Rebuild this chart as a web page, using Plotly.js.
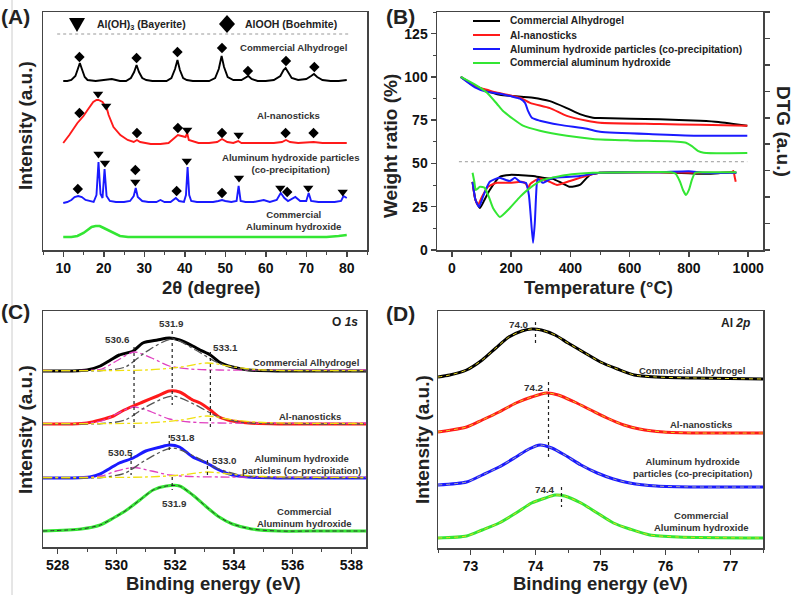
<!DOCTYPE html>
<html><head><meta charset="utf-8">
<script src="https://cdn.plot.ly/plotly-3.0.1.min.js"></script>
<style>body{margin:0;background:#fff}#chart{width:800px;height:595px}</style>
</head><body><div id="chart"></div>
<script>
// ---------------- DATA ----------------
const sampleNames = ['Commercial Alhydrogel', 'Al-nanosticks', 'Aluminum hydroxide particles (co-precipitation)', 'Commercial aluminum hydroxide'];
const sampleColors = ['#000000', '#ff1a1a', '#1a1aff', '#33e633'];

// (A) XRD, stacked intensity (a.u.)
const xrdThetaAlhy = [10, 11, 12, 13, 13.6, 14.1, 14.6, 15.3, 16, 18, 20, 22, 24, 25.5, 26.7, 27.5, 28.1, 28.7, 29.5, 30.5, 32, 34, 35.5, 36.7, 37.6, 38.2, 38.8, 39.6, 40.5, 42, 44, 46, 47.5, 48.4, 49.1, 49.7, 50.6, 52, 54, 55, 55.7, 56.5, 58, 60, 62, 63.6, 64.4, 64.9, 65.5, 66.4, 68, 70, 71.2, 71.9, 72.7, 74, 76, 78, 80];
const xrdIntAlhy = [169, 169, 170, 174, 181, 187, 181, 173, 170, 169, 170, 171, 169, 169, 172, 178, 185, 178, 172, 170, 169, 169, 169, 172, 181, 190, 180, 172, 170, 169, 169, 169, 172, 181, 194, 183, 173, 170, 170, 172, 174, 171, 169, 169, 170, 174, 180, 182, 178, 172, 170, 171, 174, 176, 173, 170, 169, 169, 170];
const xrdThetaNano = [10, 11.5, 13.5, 15, 16, 17.4, 18.2, 18.7, 19.7, 20.4, 20.8, 21.2, 22.4, 24.1, 25.9, 27.4, 28.2, 29, 31.6, 34, 36, 38.3, 39.5, 40.2, 40.6, 41, 43.4, 46, 48, 49.2, 50.5, 52, 53.2, 54, 58, 62, 64, 65, 66, 68, 71.8, 74, 78, 80];
const xrdIntNano = [107, 115, 127, 134, 140, 148, 150, 150, 148, 143, 141, 135, 123, 115, 110, 108, 110, 108, 106, 106, 107, 115, 114, 113, 117, 110, 107, 107, 108, 111, 108, 107, 109, 107, 107, 107, 108, 110, 108, 107, 108, 107, 107, 107];
const xrdThetaCoppt = [10, 11, 12, 12.8, 13.7, 14.6, 15.5, 16.5, 17.5, 18.2, 18.7, 19.2, 19.7, 20.2, 20.7, 21.5, 23, 25, 26.5, 27.4, 27.9, 28.4, 29.5, 31, 33, 34, 35, 36.5, 37.8, 38.6, 39.8, 40.3, 40.7, 41.1, 41.6, 43, 45, 47, 48.3, 49.2, 50, 51.5, 52.8, 53.3, 53.8, 55, 57, 59, 59.5, 61, 62.7, 63.7, 64.6, 65.5, 66.5, 67.3, 68.5, 70, 70.6, 71.2, 73, 75, 77, 78.6, 79.2, 80];
const xrdIntCoppt = [47, 48, 50, 53, 54, 53, 50, 49, 48, 55, 88, 56, 52, 81, 54, 49, 48, 48, 49, 54, 62, 53, 49, 48, 48, 50, 48, 48, 52, 49, 48, 55, 83, 55, 49, 48, 48, 48, 49, 50, 49, 48, 49, 64, 49, 48, 48, 49, 50, 48, 50, 57, 52, 49, 51, 53, 49, 49, 57, 49, 48, 48, 48, 49, 54, 52];
const xrdThetaComm = [10, 12, 13.5, 15, 16, 17, 18, 19, 20, 21, 22, 23, 24, 25, 26, 28, 30, 35, 40, 45, 50, 55, 60, 65, 70, 75, 78, 80];
const xrdIntComm = [13, 13, 14, 17, 20, 23, 24, 24, 22, 20, 18, 16, 14, 13.5, 13, 13, 13, 13, 13, 13, 13, 13, 13, 13, 13, 13, 14, 15];
// phase markers above the reflections
const bayeriteTheta = [18.6, 20.6, 40.6, 53.3, 18.7, 20.3, 27.8, 40.5, 53.4, 63.6, 70.5, 79.0];
const bayeriteLevel = [156, 144, 120, 115, 96, 87, 68, 89, 72, 62, 62, 58];
const boehmiteTheta = [14.0, 28.1, 38.2, 49.2, 55.6, 65.0, 72.0, 14.0, 28.2, 38.3, 49.2, 64.9, 71.8, 13.6, 27.8, 38.0, 49.2, 65.3];
const boehmiteLevel = [193, 192, 198, 202, 179, 189, 183, 137, 117, 122, 117, 117, 117, 61, 80, 59, 57, 58];
const xrdRefLevel = 216;
const xrdRefSpan = [8.5, 80.5];

// (B) TGA weight ratio (%)
const tgaTAlhy = [30, 78, 118, 162, 274, 331, 388, 432, 476, 500, 700, 838, 900, 950, 997];
const tgaWAlhy = [100, 95, 92, 89.7, 88, 86, 82, 78.5, 76.4, 76.2, 75.5, 74.7, 74, 72.8, 71.8];
const tgaTNano = [30, 78, 118, 150, 230, 264, 331, 388, 456, 500, 700, 838, 997];
const tgaWNano = [100, 94.5, 92.6, 91, 88, 85, 82, 77.5, 74.7, 73.5, 72.8, 72.3, 71.8];
const tgaTCoppt = [30, 78, 118, 162, 206, 230, 247, 257, 270, 297, 365, 456, 500, 700, 838, 997];
const tgaWCoppt = [100, 94, 91.4, 90.3, 88.5, 87.4, 85, 80.4, 76.4, 74.7, 72.3, 70, 68.3, 66.8, 66, 66];
const tgaTComm = [30, 84, 118, 152, 172, 206, 240, 297, 388, 476, 600, 760, 790, 810, 830, 850, 997];
const tgaWComm = [100, 95, 91, 84.5, 80.4, 75.8, 71.8, 68.9, 66, 64.2, 63.3, 62.6, 62, 60, 57.3, 56.2, 56];
// (B) DTG (a.u.)
const dtgTAlhy = [70, 80, 95, 110, 128, 162, 196, 274, 307, 341, 370, 399, 432, 466, 500, 600, 700, 800, 850, 900, 940, 960];
const dtgAlhy = [2.58, 1.89, 1.59, 1.89, 2.27, 2.77, 2.84, 2.80, 2.73, 2.69, 2.54, 2.39, 2.46, 2.84, 2.92, 2.94, 2.94, 2.90, 2.88, 2.90, 2.94, 2.92];
const dtgTNano = [70, 78, 88, 100, 122, 152, 196, 236, 250, 257, 265, 274, 297, 330, 355, 399, 466, 500, 700, 900, 945, 950, 955, 958];
const dtgNano = [2.58, 1.97, 1.70, 1.97, 2.39, 2.54, 2.54, 2.58, 2.50, 2.35, 2.50, 2.58, 2.69, 2.58, 2.46, 2.61, 2.84, 2.92, 2.94, 2.92, 2.95, 2.99, 2.73, 2.58];
const dtgTCoppt = [70, 80, 92, 105, 128, 160, 196, 213, 230, 250, 260, 266, 274, 280, 287, 291, 300, 307, 341, 400, 432, 500, 700, 800, 850, 960];
const dtgCoppt = [2.58, 1.89, 1.63, 2.01, 2.58, 2.73, 2.61, 2.73, 2.58, 2.54, 2.08, 1.33, 0.27, 1.02, 2.54, 2.69, 2.61, 2.54, 2.73, 2.77, 2.80, 2.92, 2.94, 2.98, 2.92, 2.92];
const dtgTComm = [70, 76, 81, 95, 111, 125, 139, 162, 196, 230, 264, 307, 388, 476, 600, 740, 755, 770, 780, 790, 800, 810, 821, 840, 900, 960];
const dtgComm = [2.92, 2.58, 2.27, 2.39, 2.35, 2.01, 1.59, 1.25, 1.59, 2.01, 2.35, 2.65, 2.84, 2.92, 2.94, 2.94, 2.88, 2.58, 2.27, 2.08, 2.27, 2.65, 2.92, 2.94, 2.94, 2.94];
const tgaRefLevel = 51;
const tgaRefSpan = [24, 997];

// (C) O 1s XPS, stacked intensity (a.u.)
const o1sBEAlhy = [527.5, 528.5, 529.0, 529.45, 529.8, 530.1, 530.57, 530.9, 531.4, 531.8, 532.15, 532.6, 532.85, 533.2, 533.5, 533.95, 534.5, 535.5, 537, 538.5];
const o1sAlhy = [176, 176, 177, 181, 187, 192, 196, 204, 207, 209, 207, 201, 197, 192, 185, 180, 177, 176, 176, 176];
const o1sBENano = [527.5, 528.5, 529.0, 529.45, 529.9, 530.2, 530.57, 530.9, 531.4, 531.8, 532.15, 532.6, 532.85, 533.2, 533.5, 533.95, 534.5, 535.5, 537, 538.5];
const o1sNano = [123, 123, 124, 127, 131, 136, 141, 145, 151, 156, 155, 147, 144, 137, 130, 126, 124, 123, 123, 123];
const o1sBECoppt = [527.5, 528.5, 529.1, 529.45, 529.8, 530.1, 530.57, 531.0, 531.5, 531.8, 532.15, 532.6, 533.07, 533.5, 533.95, 534.5, 535.5, 537, 538.5];
const o1sCoppt = [69, 69, 70, 73, 79, 84, 89, 96, 100, 102, 100, 90, 84, 77, 72, 70, 69, 69, 69];
const o1sBEComm = [527.5, 528.8, 529.45, 529.9, 530.35, 530.8, 531.25, 531.7, 532.15, 532.6, 533.07, 533.5, 533.95, 534.6, 535.5, 537, 538.5];
const o1sComm = [16, 18, 22, 29, 37, 47, 57, 61, 61, 52, 40, 30, 23, 18, 16, 16, 16];
// fitted components
const fitLowBE = [527.5, 528.8, 529.5, 530.0, 530.6, 531.2, 531.8, 532.5, 533.5, 538.5];
const fitLowAlhy = [176.5, 176.5, 178, 186, 195, 189, 181, 178, 177, 177];
const fitLowNano = [123.5, 123.5, 126, 133, 140, 135, 128, 125, 124, 124];
const fitLowCoppt = [69.5, 69.5, 71, 76, 79.5, 76, 72, 70.5, 70, 70];
const fitMidBE = [527.5, 529.5, 530.3, 531.0, 531.9, 532.7, 533.4, 534.2, 535, 538.5];
const fitMidAlhy = [176, 176.5, 180, 195, 208, 197, 185, 178, 176.5, 176];
const fitMidNano = [123, 123.5, 127, 140, 151, 142, 131, 125, 123.5, 123];
const fitMidCoppt = [69, 69.5, 74, 87, 99, 90, 79, 72, 69.5, 69];
const fitHighBE = [527.5, 531.0, 532.2, 533.1, 534.0, 535.0, 538.5];
const fitHighAlhy = [176.5, 177, 180, 184, 180, 177, 176.5];
const fitHighNano = [123.5, 124, 127, 131, 127, 124.5, 123.5];
const fitHighCoppt = [69.5, 70, 72, 75, 72.5, 70.5, 69.5];
// peak position guides (BE, top, bottom) and labels
const o1sGuideBE = [530.6, 531.9, 533.2, 530.5, 531.8, 533.1, 531.9];
const o1sGuideTop = [200, 216, 195, 92, 112, 87, 70];
const o1sGuideBottom = [117, 142, 117, 72, 94, 70, 57];
const o1sPeakText = ['530.6', '531.9', '533.1', '530.5', '531.8', '533.0', '531.9'];
const o1sPeakTextBE = [530.05, 531.89, 533.7, 530.13, 532.26, 533.68, 531.99];
const o1sPeakTextLevel = [208, 224, 200, 95, 110, 87, 44];

// (D) Al 2p XPS
const al2pBEAlhy = [72.5, 72.68, 72.94, 73.18, 73.39, 73.59, 73.79, 73.94, 74.09, 74.3, 74.5, 74.76, 75.0, 75.26, 75.52, 75.86, 76.47, 77.5];
const al2pAlhy = [171, 173, 178, 188, 200, 211, 217, 219, 218, 213, 205, 195, 186, 179, 173, 171, 170, 169];
const al2pBENano = [72.5, 72.94, 73.18, 73.44, 73.7, 73.94, 74.17, 74.35, 74.6, 74.85, 75.1, 75.36, 75.6, 75.97, 76.5, 77.5];
const al2pNano = [116, 121, 128, 136, 145, 151, 155, 153, 146, 138, 130, 123, 119, 116, 115, 115];
const al2pBECoppt = [72.5, 72.94, 73.18, 73.44, 73.7, 73.9, 74.07, 74.25, 74.45, 74.7, 74.95, 75.2, 75.45, 75.86, 76.5, 77.5];
const al2pCoppt = [63, 66, 73, 81, 91, 99, 103, 100, 93, 83, 75, 69, 65, 62, 61, 61];
const al2pBEComm = [72.5, 72.94, 73.18, 73.44, 73.7, 73.94, 74.15, 74.3, 74.45, 74.7, 74.95, 75.2, 75.45, 75.76, 76.2, 77.5];
const al2pComm = [10, 12, 18, 25, 35, 45, 50, 53, 52, 45, 35, 25, 19, 13, 11, 10];
const al2pGuideBE = [74.0, 74.2, 74.4];
const al2pGuideTop = [226, 166, 61];
const al2pGuideBottom = [205, 91, 41];
const al2pPeakText = ['74.0', '74.2', '74.4'];
const al2pPeakTextBE = [73.74, 73.98, 74.15];
const al2pPeakTextLevel = [224, 161, 59];

// ---------------- CHART ----------------
const FONT = 'Liberation Sans, Arial, sans-serif';
const W = 800, H = 595;
const xd = (a, b) => [a / W, b / W];
const yd = (top, bot) => [1 - bot / H, 1 - top / H];
const AX = '#444';
const tickFont = {family: FONT, size: 14, color: '#111', weight: 700};

function xAxis(dom, range, dtick, minor, anchor) {
  return {domain: dom, range: range, anchor: anchor, dtick: dtick, tick0: 0,
    showline: true, mirror: true, linecolor: AX, linewidth: 1.5,
    ticks: 'outside', ticklen: 5, tickwidth: 1.5, tickcolor: AX, tickfont: tickFont,
    minor: {dtick: minor, ticks: 'outside', ticklen: 3, tickwidth: 1, tickcolor: AX, showgrid: false},
    showgrid: false, zeroline: false, fixedrange: true};
}
function yBlank(dom, range, anchor) {
  return {domain: dom, range: range, anchor: anchor, showline: true, mirror: true, linecolor: AX, linewidth: 1.5,
    ticks: '', showticklabels: false, showgrid: false, zeroline: false};
}

const traces = [];
function line(x, y, xa, ya, color, width, extra) {
  traces.push(Object.assign({type: 'scatter', mode: 'lines', x: x, y: y, xaxis: xa, yaxis: ya,
    line: Object.assign({color: color, width: width}, (extra && extra.line) || {}), hoverinfo: 'skip', showlegend: false},
    extra && extra.rest || {}));
}

// (A)
[[xrdThetaAlhy, xrdIntAlhy], [xrdThetaNano, xrdIntNano], [xrdThetaCoppt, xrdIntCoppt], [xrdThetaComm, xrdIntComm]]
  .forEach((d, i) => line(d[0], d[1], 'x', 'y', sampleColors[i], i === 3 ? 2.6 : 1.9));
traces.push({type: 'scatter', mode: 'markers', x: bayeriteTheta, y: bayeriteLevel, xaxis: 'x', yaxis: 'y',
  marker: {symbol: 'triangle-down', size: 9, color: '#000'}, showlegend: false, hoverinfo: 'skip'});
traces.push({type: 'scatter', mode: 'markers', x: boehmiteTheta, y: boehmiteLevel, xaxis: 'x', yaxis: 'y',
  marker: {symbol: 'diamond', size: 8, color: '#000'}, showlegend: false, hoverinfo: 'skip'});
line(xrdRefSpan, [xrdRefLevel, xrdRefLevel], 'x', 'y', '#999', 1, {line: {dash: 'dot'}});

// (B)
[[tgaTAlhy, tgaWAlhy], [tgaTNano, tgaWNano], [tgaTCoppt, tgaWCoppt], [tgaTComm, tgaWComm]]
  .forEach((d, i) => line(d[0], d[1], 'x2', 'y2', sampleColors[i], 2, {line: {shape: 'spline', smoothing: 0.6}}));
line(tgaRefSpan, [tgaRefLevel, tgaRefLevel], 'x2', 'y2', '#999', 1, {line: {dash: 'dot'}});
[[dtgTAlhy, dtgAlhy], [dtgTNano, dtgNano], [dtgTCoppt, dtgCoppt], [dtgTComm, dtgComm]]
  .forEach((d, i) => line(d[0], d[1], 'x2', 'y5', sampleColors[i], 2, {line: {shape: 'spline', smoothing: 0.5}}));

// (C)
[[o1sBEAlhy, o1sAlhy], [o1sBENano, o1sNano], [o1sBECoppt, o1sCoppt], [o1sBEComm, o1sComm]]
  .forEach((d, i) => line(d[0], d[1], 'x3', 'y3', sampleColors[i], 3, {line: {shape: 'spline', smoothing: 0.7}}));
line(o1sBEComm, o1sComm, 'x3', 'y3', '#333', 1, {line: {shape: 'spline', smoothing: 0.7, dash: '4px,3px'}});
const fitSets = [[fitLowBE, [fitLowAlhy, fitLowNano, fitLowCoppt], '#e040c0'],
                 [fitMidBE, [fitMidAlhy, fitMidNano, fitMidCoppt], '#555555'],
                 [fitHighBE, [fitHighAlhy, fitHighNano, fitHighCoppt], '#f0e010']];
fitSets.forEach(f => f[1].forEach(y => line(f[0], y, 'x3', 'y3', f[2], 1.3, {line: {shape: 'spline', smoothing: 0.8, dash: 'dashdot'}})));
function guides(be, top, bot, xa, ya) {
  const gx = [], gy = [];
  be.forEach((b, i) => { gx.push(b, b, null); gy.push(top[i], bot[i], null); });
  line(gx, gy, xa, ya, '#222', 1.2, {line: {dash: 'dot'}});
}
guides(o1sGuideBE, o1sGuideTop, o1sGuideBottom, 'x3', 'y3');

// (D)
[[al2pBEAlhy, al2pAlhy], [al2pBENano, al2pNano], [al2pBECoppt, al2pCoppt], [al2pBEComm, al2pComm]]
  .forEach((d, i) => {
    line(d[0], d[1], 'x4', 'y4', sampleColors[i], 3, {line: {shape: 'spline', smoothing: 0.7}});
    line(d[0], d[1], 'x4', 'y4', i === 2 ? '#aaaaaa' : '#e8d820', 1, {line: {shape: 'spline', smoothing: 0.7, dash: '4px,4px'}});
  });
guides(al2pGuideBE, al2pGuideTop, al2pGuideBottom, 'x4', 'y4');

// ---------- annotations ----------
const ann = [];
const lblFont = (s, c) => ({family: FONT, size: s, color: c || '#222', weight: 700});
function txt(text, xref, yref, x, y, size, opts) {
  ann.push(Object.assign({text: text, xref: xref, yref: yref, x: x, y: y, showarrow: false,
    font: lblFont(size), xanchor: 'center', yanchor: 'middle'}, opts || {}));
}
const P = 'paper';
// panel labels
txt('(A)', P, P, 15 / W, 1 - 16 / H, 21);
txt('(B)', P, P, 400 / W, 1 - 16 / H, 21);
txt('(C)', P, P, 15 / W, 1 - 311 / H, 21);
txt('(D)', P, P, 400 / W, 1 - 313 / H, 21);
// axis titles
txt('2θ (degree)', P, P, 211 / W, 1 - 287 / H, 18.5);
txt('Temperature (°C)', P, P, 598 / W, 1 - 287 / H, 18.5);
txt('Binding energy (eV)', P, P, 213 / W, 1 - 583 / H, 18.5);
txt('Binding energy (eV)', P, P, 600 / W, 1 - 583 / H, 18.5);
txt('Intensity (a.u.)', P, P, 25 / W, 1 - 126 / H, 19, {textangle: -90});
txt('Weight ratio (%)', P, P, 390 / W, 1 - 146 / H, 19, {textangle: -90});
txt('DTG (a.u.)', P, P, 784 / W, 1 - 131 / H, 19, {textangle: 90});
txt('Intensity (a.u.)', P, P, 25 / W, 1 - 430 / H, 19, {textangle: -90});
txt('Intensity (a.u.)', P, P, 422 / W, 1 - 440 / H, 19, {textangle: -90});
// (A) legend: symbol keys drawn as shapes, names as text
const shapes = [];
const px = v => v / W, py = v => 1 - v / H;
shapes.push({type: 'path', xref: P, yref: P, fillcolor: '#000', line: {width: 0},
  path: `M${px(69)},${py(18)} L${px(85)},${py(18)} L${px(77)},${py(32)} Z`});
shapes.push({type: 'path', xref: P, yref: P, fillcolor: '#000', line: {width: 0},
  path: `M${px(219)},${py(24)} L${px(227)},${py(15)} L${px(235)},${py(24)} L${px(227)},${py(33)} Z`});
txt('Al(OH)<sub>3</sub> (Bayerite)', P, P, 95 / W, 1 - 25 / H, 10.5, {xanchor: 'left'});
txt('AlOOH (Boehmite)', P, P, 243 / W, 1 - 24 / H, 10.5, {xanchor: 'left'});
// (A) sample labels
txt('Commercial Alhydrogel', 'x', 'y', 66.8, 203, 9.6, {font: lblFont(9.6, '#333')});
txt('Al-nanosticks', 'x', 'y', 65.6, 135, 9.6, {font: lblFont(9.6, '#333')});
txt('Aluminum hydroxide particles<br>(co-precipitation)', 'x', 'y', 66.3, 87, 9.6, {font: lblFont(9.6, '#333')});
txt('Commercial<br>Aluminum hydroxide', 'x', 'y', 66.8, 30, 9.6, {font: lblFont(9.6, '#333')});
// (B) legend
sampleNames.forEach((n, i) => {
  const yy = 1 - (21 + i * 14) / H;
  shapes.push({type: 'line', xref: P, yref: P, x0: 473 / W, x1: 500 / W, y0: yy, y1: yy, line: {color: sampleColors[i], width: 2}});
  txt(n, P, P, 508 / W, yy, 10.2, {xanchor: 'left'});
});
// (C) labels
o1sPeakText.forEach((t, i) => txt(t, 'x3', 'y3', o1sPeakTextBE[i], o1sPeakTextLevel[i], 9.8, {font: lblFont(9.8, '#333')}));
txt('O <i>1s</i>', 'x3', 'y3', 538.3, 225, 12, {xanchor: 'right'});
txt('Commercial Alhydrogel', 'x3', 'y3', 536.45, 185, 9.5, {font: lblFont(9.5, '#333')});
txt('Al-nanosticks', 'x3', 'y3', 536.6, 131, 9.5, {font: lblFont(9.5, '#333')});
txt('Aluminum hydroxide<br>particles (co-precipitation)', 'x3', 'y3', 536.3, 83, 9.5, {font: lblFont(9.5, '#333')});
txt('Commercial<br>Aluminum hydroxide', 'x3', 'y3', 536.4, 29.5, 9.5, {font: lblFont(9.5, '#333')});
// (D) labels
al2pPeakText.forEach((t, i) => txt(t, 'x4', 'y4', al2pPeakTextBE[i], al2pPeakTextLevel[i], 9.8, {font: lblFont(9.8, '#333')}));
txt('Al <i>2p</i>', 'x4', 'y4', 77.33, 225, 12, {xanchor: 'right'});
txt('Commercial Alhydrogel', 'x4', 'y4', 76.41, 178, 9.5, {font: lblFont(9.5, '#333')});
txt('Al-nanosticks', 'x4', 'y4', 76.55, 124, 9.5, {font: lblFont(9.5, '#333')});
txt('Aluminum hydroxide<br>particles (co-precipitation)', 'x4', 'y4', 76.42, 80.5, 9.5, {font: lblFont(9.5, '#333')});
txt('Commercial<br>Aluminum hydroxide', 'x4', 'y4', 76.55, 27, 9.5, {font: lblFont(9.5, '#333')});

// faint figure frame line on the left
shapes.push({type: 'line', xref: P, yref: P, x0: 12 / W, x1: 12 / W, y0: 0, y1: 1, line: {color: '#cccccc', width: 1}});

const layout = {
  width: W, height: H, margin: {l: 0, r: 0, t: 0, b: 0},
  paper_bgcolor: '#ffffff', plot_bgcolor: 'rgba(0,0,0,0)',
  showlegend: false, font: {family: FONT},
  xaxis: xAxis(xd(43, 367), [5, 85], 10, 5, 'y'),
  yaxis: yBlank(yd(12, 250), [0, 238], 'x'),
  xaxis2: xAxis(xd(437, 763), [-50, 1050], 200, 100, 'y2'),
  yaxis2: {domain: yd(12, 250), range: [0, 137.5], anchor: 'x2', dtick: 25, tick0: 0,
    showline: true, mirror: false, linecolor: AX, linewidth: 1.5,
    ticks: 'outside', ticklen: 5, tickwidth: 1.5, tickcolor: AX, tickfont: tickFont,
    minor: {dtick: 12.5, ticks: 'outside', ticklen: 3, tickwidth: 1, tickcolor: AX, showgrid: false},
    showgrid: false, zeroline: false},
  yaxis5: {overlaying: 'y2', side: 'right', anchor: 'x2', range: [0, 9], dtick: 1, tick0: 0,
    showline: true, linecolor: AX, linewidth: 1.5, ticks: 'outside', ticklen: 5, tickwidth: 1.5, tickcolor: AX,
    showticklabels: false, showgrid: false, zeroline: false},
  xaxis3: xAxis(xd(43, 366), [527.5, 538.5], 2, 1, 'y3'),
  yaxis3: yBlank(yd(311, 547), [0, 236], 'x3'),
  xaxis4: xAxis(xd(438, 763), [72.5, 77.5], 1, 0.5, 'y4'),
  yaxis4: yBlank(yd(311, 548), [0, 237], 'x4'),
  annotations: ann, shapes: shapes
};
Plotly.newPlot('chart', traces, layout, {displayModeBar: false, staticPlot: true});
</script></body></html>
